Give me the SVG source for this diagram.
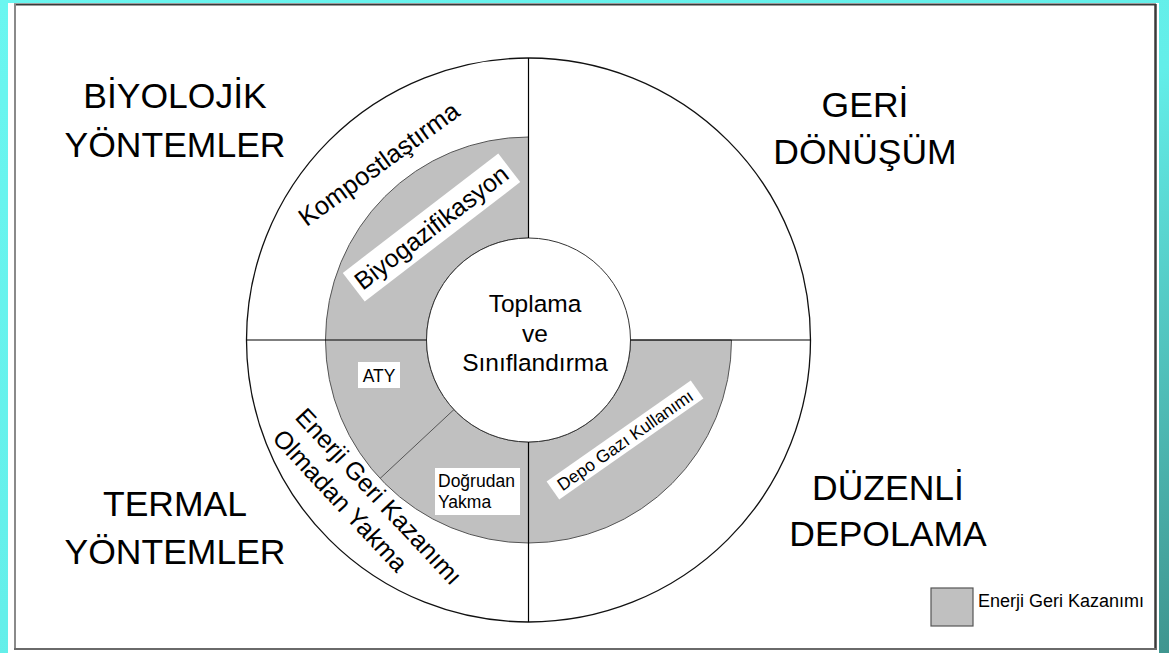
<svg xmlns="http://www.w3.org/2000/svg" width="1169" height="653" viewBox="0 0 1169 653">
  <defs>
    <linearGradient id="bg" x1="0" y1="0" x2="1" y2="1">
      <stop offset="0" stop-color="#6af6f0"/>
      <stop offset="0.55" stop-color="#63eee9"/>
      <stop offset="1" stop-color="#3f958f"/>
    </linearGradient>
    <style>
      .t { font-family: "Liberation Sans", Arial, sans-serif; fill: #000; }
      .big { font-size: 35.5px; text-anchor: middle; }
      .mid { font-size: 25px; }
      .sm { font-size: 17.5px; }
      .div { stroke: #000; stroke-width: 1.2; fill: none; }
      .lab { fill: #fff; stroke: none; }
    </style>
  </defs>

  <g id="frame">
    <rect x="0" y="0" width="1169" height="653" fill="url(#bg)"/>
    <rect x="8" y="3" width="1151" height="650" fill="#fff"/>
    <line x1="14" y1="4.5" x2="1156" y2="4.5" stroke="#3a3a3a" stroke-width="2"/>
    <line x1="1155.5" y1="4" x2="1155.5" y2="650" stroke="#3a3a3a" stroke-width="2.5"/>
    <line x1="15" y1="4" x2="15" y2="650" stroke="#8a8a8a" stroke-width="2"/>
    <line x1="14" y1="649" x2="1156" y2="649" stroke="#6a6a6a" stroke-width="2"/>
  </g>

  <g id="ring">
    <circle cx="528.5" cy="340" r="282" fill="#fff" stroke="#111" stroke-width="1.3"/>
    <path d="M528.5,137 A203,203 0 1 0 731.5,340 L630.5,340 A102,102 0 1 1 528.5,238 Z" fill="#c0c0c0" stroke="#555" stroke-width="1"/>
    <circle cx="528.5" cy="340" r="102" fill="#fff" stroke="#333" stroke-width="1"/>
  </g>

  <g id="connectors">
    <line class="div" x1="528.5" y1="58" x2="528.5" y2="238"/>
    <line class="div" x1="630.5" y1="340" x2="810.5" y2="340"/>
    <line class="div" x1="528.5" y1="442" x2="528.5" y2="622"/>
    <line class="div" x1="246.5" y1="340" x2="426.5" y2="340"/>
    <line x1="454" y1="409.5" x2="380" y2="478.5" stroke="#555" stroke-width="1"/>
  </g>

  <g id="biyolojik">
    <text class="t big" x="175" y="108">BİYOLOJİK</text>
    <text class="t big" x="175" y="157">YÖNTEMLER</text>
  </g>
  <g id="geri-donusum">
    <text class="t big" x="865" y="117">GERİ</text>
    <text class="t big" x="865" y="164">DÖNÜŞÜM</text>
  </g>
  <g id="termal">
    <text class="t big" x="175" y="516">TERMAL</text>
    <text class="t big" x="175" y="564">YÖNTEMLER</text>
  </g>
  <g id="duzenli">
    <text class="t big" x="888" y="500">DÜZENLİ</text>
    <text class="t big" x="888" y="546">DEPOLAMA</text>
  </g>

  <g id="toplama">
    <text class="t" font-size="24.5" text-anchor="middle" x="535" y="312">Toplama</text>
    <text class="t" font-size="24.5" text-anchor="middle" x="535" y="342">ve</text>
    <text class="t" font-size="24.5" text-anchor="middle" x="535" y="371">Sınıflandırma</text>
  </g>

  <g id="kompost">
    <text class="t" font-size="25.5" text-anchor="middle" transform="translate(384,171) rotate(-36)">Kompostlaştırma</text>
  </g>

  <g id="biyogaz" transform="translate(431.5,227.5) rotate(-37.5)">
    <rect class="lab" x="-98" y="-18" width="196" height="36"/>
    <text class="t mid" text-anchor="middle" x="0" y="8.5">Biyogazifikasyon</text>
  </g>

  <g id="aty">
    <rect class="lab" x="358" y="362" width="42" height="26"/>
    <text class="t sm" text-anchor="middle" x="379" y="382">ATY</text>
  </g>

  <g id="dogrudan">
    <rect class="lab" x="435" y="468" width="85" height="47"/>
    <text class="t sm" x="438" y="487">Doğrudan</text>
    <text class="t sm" x="438" y="508">Yakma</text>
  </g>

  <g id="depo" transform="translate(625,440) rotate(-35)">
    <rect class="lab" x="-88" y="-11" width="176" height="22"/>
    <text class="t" font-size="17.5" text-anchor="middle" x="0" y="6.3">Depo Gazı Kullanımı</text>
  </g>

  <g id="enerji-olmadan" transform="translate(294,418) rotate(47)">
    <text class="t mid" x="0" y="0">Enerji Geri Kazanımı</text>
    <text class="t mid" x="0" y="31">Olmadan Yakma</text>
  </g>

  <g id="legend">
    <rect x="931" y="588" width="42" height="38" fill="#c0c0c0" stroke="#555" stroke-width="1.2"/>
    <text class="t" font-size="18" x="978" y="607">Enerji Geri Kazanımı</text>
  </g>
</svg>
